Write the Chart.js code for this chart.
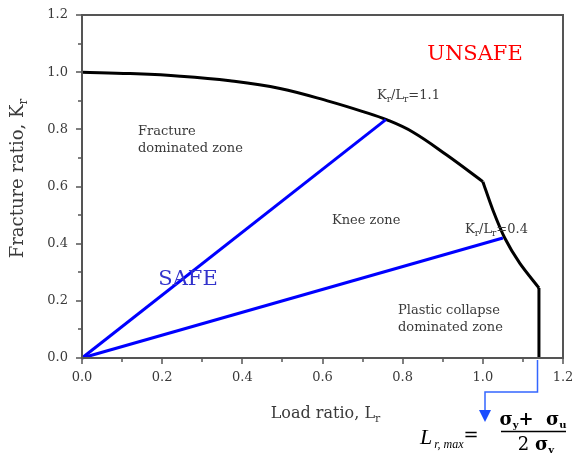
<!DOCTYPE html>
<html>
<head>
<meta charset="utf-8">
<script src="https://cdn.jsdelivr.net/npm/chart.js@4.4.1/dist/chart.umd.min.js"></script>
<style>
  html, body { margin: 0; padding: 0; background: #fff; }
  #wrap { position: relative; width: 581px; height: 453px; }
</style>
</head>
<body>
<div id="wrap"><canvas id="fad"></canvas></div>
<script>
// Failure assessment diagram: Kr vs Lr
var fadX = [0, 0.12, 0.245, 0.369, 0.494, 0.619, 0.701, 0.761, 0.826, 0.910, 1.0];
var fadY = [1.0, 0.995, 0.986, 0.970, 0.943, 0.897, 0.862, 0.833, 0.790, 0.710, 0.617];
var collapseX = [1.0, 1.025, 1.055, 1.092, 1.14];
var collapseY = [0.617, 0.518, 0.419, 0.332, 0.245];
var cutoffX = [1.14, 1.14];
var cutoffY = [0.245, 0];
var ratio11X = [0, 0.758];
var ratio11Y = [0, 0.834];
var ratio04X = [0, 1.05];
var ratio04Y = [0, 0.42];
var majorTicks = [0, 0.2, 0.4, 0.6, 0.8, 1.0, 1.2];
var minorTicks = [0.1, 0.3, 0.5, 0.7, 0.9, 1.1];
var lrMax = 1.14;

var FONT = "'DejaVu Serif', 'Liberation Serif', serif";
var frameColor = "#555";
var textColor = "#3a3a3a";

function pts(xs, ys) {
  return xs.map(function(x, i) { return { x: x, y: ys[i] }; });
}

// draw a row of text runs (for subscripts etc.)
function drawRuns(ctx, runs, x, y, align) {
  var total = 0;
  runs.forEach(function(r) { ctx.font = r.font; total += ctx.measureText(r.t).width + (r.gap || 0); });
  var cx = align === "center" ? x - total / 2 : (align === "right" ? x - total : x);
  runs.forEach(function(r) {
    ctx.font = r.font;
    ctx.fillStyle = r.color || textColor;
    ctx.fillText(r.t, cx, y + (r.dy || 0));
    cx += ctx.measureText(r.t).width + (r.gap || 0);
  });
}

function noPad(s) {
  s.paddingTop = 0; s.paddingBottom = 0; s.paddingLeft = 0; s.paddingRight = 0;
}

var decor = {
  id: "decor",
  afterDatasetsDraw: function(chart) {
    var ctx = chart.ctx, a = chart.chartArea;
    var sx = chart.scales.x, sy = chart.scales.y;
    ctx.save();
    // frame
    ctx.strokeStyle = frameColor;
    ctx.lineWidth = 2;
    ctx.strokeRect(a.left, a.top, a.right - a.left, a.bottom - a.top);
    // ticks, outward
    ctx.lineWidth = 1.5;
    ctx.beginPath();
    majorTicks.forEach(function(v) {
      var px = Math.round(sx.getPixelForValue(v)), py = Math.round(sy.getPixelForValue(v));
      ctx.moveTo(px, a.bottom); ctx.lineTo(px, a.bottom + 6);
      ctx.moveTo(a.left, py); ctx.lineTo(a.left - 6, py);
    });
    minorTicks.forEach(function(v) {
      var px = Math.round(sx.getPixelForValue(v)), py = Math.round(sy.getPixelForValue(v));
      ctx.moveTo(px, a.bottom); ctx.lineTo(px, a.bottom + 4);
      ctx.moveTo(a.left, py); ctx.lineTo(a.left - 4, py);
    });
    ctx.stroke();

    ctx.textBaseline = "alphabetic";
    // axis titles
    drawRuns(ctx, [
      { t: "Load ratio, L", font: "16px " + FONT },
      { t: "r", font: "11px " + FONT, dy: 4 }
    ], (a.left + a.right) / 2 + 3, 418, "center");
    ctx.save();
    ctx.translate(23, (a.top + a.bottom) / 2 - 8);
    ctx.rotate(-Math.PI / 2);
    drawRuns(ctx, [
      { t: "Fracture ratio, K", font: "18px " + FONT },
      { t: "r", font: "12px " + FONT, dy: 4 }
    ], 0, 0, "center");
    ctx.restore();

    // zone labels
    ctx.font = "13px " + FONT;
    ctx.fillStyle = textColor;
    ctx.fillText("Fracture", 138, 135);
    ctx.fillText("dominated zone", 138, 152);
    ctx.fillText("Knee zone", 332, 224);
    ctx.fillText("Plastic collapse", 398, 314);
    ctx.fillText("dominated zone", 398, 331);
    drawRuns(ctx, [
      { t: "K", font: "13px " + FONT },
      { t: "r", font: "9px " + FONT, dy: 3 },
      { t: "/L", font: "13px " + FONT },
      { t: "r", font: "9px " + FONT, dy: 3 },
      { t: "=1.1", font: "13px " + FONT }
    ], 377, 99, "left");
    drawRuns(ctx, [
      { t: "K", font: "13px " + FONT },
      { t: "r", font: "9px " + FONT, dy: 3 },
      { t: "/L", font: "13px " + FONT },
      { t: "r", font: "9px " + FONT, dy: 3 },
      { t: "=0.4", font: "13px " + FONT }
    ], 465, 233, "left");
    ctx.textAlign = "center";
    ctx.font = "21px " + FONT;
    ctx.fillStyle = "#ff0000";
    ctx.fillText("UNSAFE", 475, 60);
    ctx.fillStyle = "#3333cc";
    ctx.fillText("SAFE", 188, 285);
    ctx.textAlign = "left";

    // arrow from Lr,max down to the formula
    var xm = Math.round(sx.getPixelForValue(lrMax)) - 1.5;
    ctx.strokeStyle = "#3366ff";
    ctx.lineWidth = 1.5;
    ctx.beginPath();
    ctx.moveTo(xm, a.bottom + 2);
    ctx.lineTo(xm, 392);
    ctx.lineTo(485, 392);
    ctx.lineTo(485, 412);
    ctx.stroke();
    ctx.fillStyle = "#1a4dff";
    ctx.beginPath();
    ctx.moveTo(479, 410); ctx.lineTo(491, 410); ctx.lineTo(485, 422);
    ctx.closePath(); ctx.fill();

    // formula
    drawRuns(ctx, [
      { t: "L", font: "italic 22px 'Liberation Serif', serif", color: "#000", gap: 2 },
      { t: "r, max", font: "italic 12px 'Liberation Serif', serif", color: "#000", dy: 4 },
      { t: "=", font: "18px " + FONT, color: "#000", dy: -3 }
    ], 420, 444, "left");
    drawRuns(ctx, [
      { t: "\u03c3", font: "bold 18px " + FONT, color: "#000" },
      { t: "y", font: "bold 10px " + FONT, color: "#000", dy: 3 },
      { t: "+  ", font: "bold 18px " + FONT, color: "#000" },
      { t: "\u03c3", font: "bold 18px " + FONT, color: "#000" },
      { t: "u", font: "bold 10px " + FONT, color: "#000", dy: 3 }
    ], 533, 425, "center");
    ctx.strokeStyle = "#000";
    ctx.lineWidth = 1.5;
    ctx.beginPath(); ctx.moveTo(501, 431.5); ctx.lineTo(566, 431.5); ctx.stroke();
    drawRuns(ctx, [
      { t: "2 ", font: "18px " + FONT, color: "#000" },
      { t: "\u03c3", font: "bold 18px " + FONT, color: "#000" },
      { t: "y", font: "bold 10px " + FONT, color: "#000", dy: 3 }
    ], 536, 450, "center");
    ctx.restore();
  }
};

var lineDs = function(data, color, extra) {
  var ds = {
    data: data, borderColor: color, borderWidth: 3, pointRadius: 0,
    showLine: true, fill: false, tension: 0, clip: false
  };
  for (var k in extra) ds[k] = extra[k];
  return ds;
};

new Chart(document.getElementById("fad"), {
  type: "scatter",
  data: {
    datasets: [
      lineDs(pts(ratio11X, ratio11Y), "#0000ff", {}),
      lineDs(pts(ratio04X, ratio04Y), "#0000ff", {}),
      lineDs(pts(fadX, fadY), "#000", { tension: 0.4 }),
      lineDs(pts(collapseX, collapseY), "#000", { tension: 0.3 }),
      lineDs(pts(cutoffX, cutoffY), "#000", {})
    ]
  },
  options: {
    responsive: true,
    maintainAspectRatio: false,
    animation: false,
    events: [],
    layout: { padding: { top: 15, right: 18, left: 0, bottom: 0 } },
    plugins: { legend: { display: false }, tooltip: { enabled: false } },
    scales: {
      x: {
        type: "linear", min: 0, max: 1.2,
        afterFit: function(s) { s.height = 95; noPad(s); },
        afterBuildTicks: function(s) { s.ticks = majorTicks.map(function(v) { return { value: v }; }); },
        grid: { display: false, drawTicks: false },
        border: { display: false },
        ticks: {
          padding: 12, color: textColor, font: { family: FONT, size: 13 },
          callback: function(v) { return Number(v).toFixed(1); }
        }
      },
      y: {
        type: "linear", min: 0, max: 1.2,
        afterFit: function(s) { s.width = 82; noPad(s); },
        afterBuildTicks: function(s) { s.ticks = majorTicks.map(function(v) { return { value: v }; }); },
        grid: { display: false, drawTicks: false },
        border: { display: false },
        ticks: {
          padding: 14, color: textColor, font: { family: FONT, size: 13 },
          callback: function(v) { return Number(v).toFixed(1); }
        }
      }
    }
  },
  plugins: [decor]
});
</script>
</body>
</html>
